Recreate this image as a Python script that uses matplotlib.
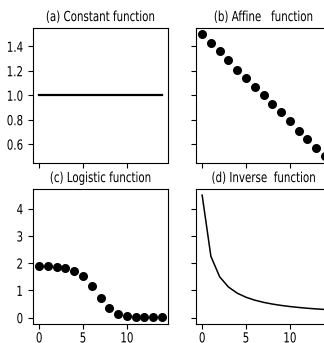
import matplotlib
matplotlib.use("Agg")
import matplotlib.pyplot as plt
from matplotlib.patheffects import AbstractPathEffect
from matplotlib.transforms import Affine2D

plt.rcParams['font.family'] = ['DejaVu Sans']
plt.rcParams['font.size'] = 10

x = list(range(15))
constant_y = [1.0] * 15
affine_y = [1.5, 1.43, 1.36, 1.29, 1.21, 1.14, 1.07, 1.0, 0.93, 0.86, 0.79, 0.71, 0.64, 0.57, 0.5]
logistic_y = [1.88, 1.88, 1.86, 1.81, 1.73, 1.53, 1.17, 0.73, 0.36, 0.15, 0.06, 0.03, 0.01, 0.01, 0.01]
inverse_y = [4.5, 2.25, 1.5, 1.125, 0.9, 0.75, 0.643, 0.5625, 0.5, 0.45, 0.409, 0.375, 0.346, 0.321, 0.3]
titles = ["(a) Constant function", "(b) Affine   function", "(c) Logistic function", "(d) Inverse  function"]
yticks_top = [0.6, 0.8, 1.0, 1.2, 1.4]
yticks_bottom = [0, 1, 2, 3, 4]
xticks = [0, 5, 10]


class Condense(AbstractPathEffect):
    """Horizontally condense text glyphs about an anchor (center or right)."""
    def __init__(self, factor=0.75, anchor='center'):
        super().__init__()
        self.factor = factor
        self.anchor = anchor

    def draw_path(self, renderer, gc, tpath, affine, rgbFace=None):
        ext = tpath.get_extents(affine)
        if self.anchor == 'right':
            cx = ext.x1
        else:
            cx = 0.5 * (ext.x0 + ext.x1)
        t = affine + Affine2D().translate(-cx, 0).scale(self.factor, 1).translate(cx, 0)
        renderer.draw_path(gc, tpath, t, rgbFace)


W, H = 324, 343
fig = plt.figure(figsize=(W / 100, H / 100), dpi=100)

def rect(l, t, w, h):
    return [l / W, 1 - (t + h) / H, w / W, h / H]

ax_a = fig.add_axes(rect(33, 28, 135, 134.5))
ax_b = fig.add_axes(rect(196, 28, 135, 134.5), sharex=ax_a, sharey=ax_a)
ax_c = fig.add_axes(rect(33, 189, 135, 134.5), sharex=ax_a)
ax_d = fig.add_axes(rect(196, 189, 135, 134.5), sharex=ax_a, sharey=ax_c)

ax_a.plot(x, constant_y, color='black', lw=1.6)
ax_b.scatter(x, affine_y, color='black', s=30)
ax_c.scatter(x, logistic_y, color='black', s=30)
ax_d.plot(x, inverse_y, color='black', lw=1.1)

for ax, t in zip([ax_a, ax_b, ax_c, ax_d], titles):
    ax.set_title(t, fontsize=10, pad=5, path_effects=[Condense(0.74, 'center')])

ax_a.set_yticks(yticks_top)
ax_c.set_yticks(yticks_bottom)
ax_a.set_xticks(xticks)
for ax in (ax_a, ax_b):
    ax.tick_params(labelbottom=False)
for ax in (ax_b, ax_d):
    ax.tick_params(labelleft=False)
for ax in (ax_c, ax_d):
    ax.tick_params(axis='x', pad=2.2)

fig.canvas.draw()
for ax in (ax_a, ax_b, ax_c, ax_d):
    for lab in ax.get_yticklabels():
        lab.set_path_effects([Condense(0.74, 'right')])
    for lab in ax.get_xticklabels():
        lab.set_path_effects([Condense(0.74, 'center')])

fig.savefig("out.png", dpi=100)
